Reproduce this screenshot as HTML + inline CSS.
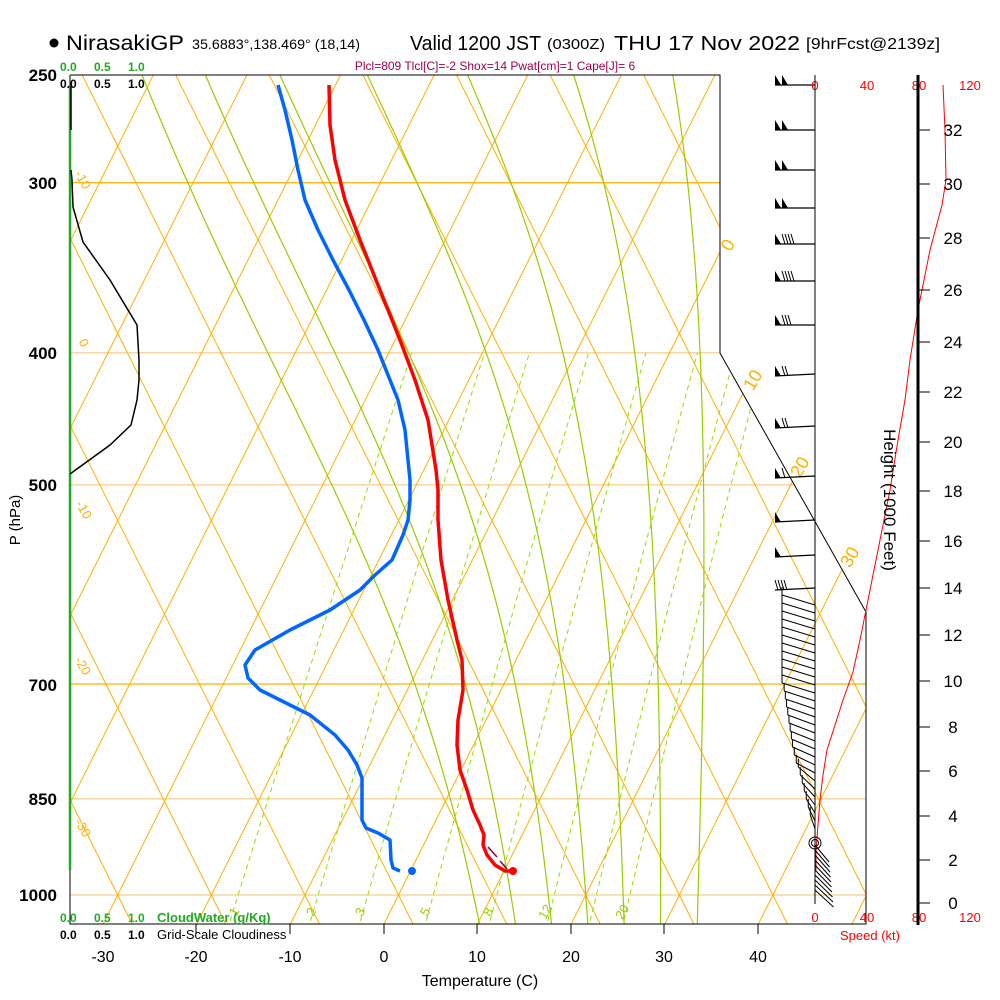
<!DOCTYPE html>
<html><head><meta charset="utf-8">
<style>
html,body{margin:0;padding:0;background:#fff;}
svg{display:block;font-family:"Liberation Sans",Arial,sans-serif;}
</style></head>
<body>
<svg id="s" width="1000" height="1000" viewBox="0 0 1000 1000" xmlns="http://www.w3.org/2000/svg">
<defs>
<clipPath id="pc"><polygon points="70,75 720,75 720,353 866,612 866,924 70,924"/></clipPath>
</defs>
<g id="grid" clip-path="url(#pc)"></g>
<polyline points="70,75 720,75 720,353 866,612 866,924 70,924 70,75" fill="none" stroke="#000" stroke-width="1"/>
<g id="dyn"></g>

<circle cx="54" cy="43" r="4.5" fill="#000"/>
<text x="66" y="50" font-size="21" textLength="118" lengthAdjust="spacingAndGlyphs">NirasakiGP</text>
<text x="192" y="49" font-size="14" textLength="168" lengthAdjust="spacingAndGlyphs">35.6883°,138.469° (18,14)</text>
<text x="410" y="50" font-size="20" textLength="131" lengthAdjust="spacingAndGlyphs">Valid 1200 JST</text>
<text x="547" y="49" font-size="15" textLength="58" lengthAdjust="spacingAndGlyphs">(0300Z)</text>
<text x="614" y="50" font-size="20" textLength="186" lengthAdjust="spacingAndGlyphs">THU 17 Nov 2022</text>
<text x="806" y="49" font-size="16" textLength="134" lengthAdjust="spacingAndGlyphs">[9hrFcst@2139z]</text>
<text x="495" y="70" font-size="12" fill="#a0004a" text-anchor="middle">Plcl=809 Tlcl[C]=-2 Shox=14 Pwat[cm]=1 Cape[J]= 6</text>

<g font-size="12" font-weight="bold" fill="#22aa22">
<text x="60" y="71">0.0</text><text x="94" y="71">0.5</text><text x="128" y="71">1.0</text>
</g>
<g font-size="12" font-weight="bold" fill="#000">
<text x="60" y="88">0.0</text><text x="94" y="88">0.5</text><text x="128" y="88">1.0</text>
</g>

<g font-size="17" font-weight="bold" text-anchor="end">
<text x="57" y="81">250</text><text x="57" y="189">300</text><text x="57" y="359">400</text>
<text x="57" y="491">500</text><text x="57" y="691">700</text><text x="57" y="805">850</text><text x="57" y="901">1000</text>
</g>
<text transform="translate(20,520) rotate(-90)" font-size="15" text-anchor="middle">P (hPa)</text>

<g font-size="12" font-weight="bold" fill="#22aa22">
<text x="60" y="922">0.0</text><text x="94" y="922">0.5</text><text x="128" y="922">1.0</text>
<text x="157" y="922" font-size="13">CloudWater (g/Kg)</text>
</g>
<g font-size="12" font-weight="bold" fill="#000">
<text x="60" y="939">0.0</text><text x="94" y="939">0.5</text><text x="128" y="939">1.0</text>
<text x="157" y="939" font-size="13" font-weight="normal">Grid-Scale Cloudiness</text>
</g>
<g stroke="#000" stroke-width="1">
<line x1="196" y1="924" x2="196" y2="934"/><line x1="290" y1="924" x2="290" y2="934"/><line x1="384" y1="924" x2="384" y2="934"/>
<line x1="477" y1="924" x2="477" y2="934"/><line x1="571" y1="924" x2="571" y2="934"/><line x1="664" y1="924" x2="664" y2="934"/><line x1="758" y1="924" x2="758" y2="934"/>
</g>
<g font-size="16" text-anchor="middle">
<text x="103" y="962">-30</text><text x="196" y="962">-20</text><text x="290" y="962">-10</text><text x="384" y="962">0</text>
<text x="477" y="962">10</text><text x="571" y="962">20</text><text x="664" y="962">30</text><text x="758" y="962">40</text>
</g>
<text x="480" y="986" font-size="16" text-anchor="middle">Temperature (C)</text>

<g font-size="13" fill="#ff0000" text-anchor="middle">
<text x="815" y="90">0</text><text x="867" y="90">40</text><text x="919" y="90">80</text><text x="970" y="90">120</text>
<text x="815" y="922">0</text><text x="867" y="922">40</text><text x="919" y="922">80</text><text x="970" y="922">120</text>
<text x="870" y="940">Speed (kt)</text>
</g>
<line x1="815" y1="75" x2="815" y2="904" stroke="#000" stroke-width="1"/>
<line x1="918" y1="75" x2="918" y2="925" stroke="#000" stroke-width="3"/>
<g id="hax" font-size="17" text-anchor="middle"></g>
<text transform="translate(884,500) rotate(90)" font-size="17" text-anchor="middle">Height (1000 Feet)</text>
</svg>
<script>
(function(){
var NS="http://www.w3.org/2000/svg";
function el(parent,tag,attrs,txt){var e=document.createElementNS(NS,tag);for(var k in attrs)e.setAttribute(k,attrs[k]);if(txt!==undefined)e.textContent=txt;parent.appendChild(e);return e;}
function Y(p){return 895-591.6*Math.log(1000/p);}
function X(T,p){return 384+9.36*T+0.5*(924-Y(p));}
var g=document.getElementById('grid');
[[300,'#ffb000',1.3],[400,'#f0c070',1],[500,'#f0c070',1],[700,'#ffb000',1.3],[850,'#f0c070',1],[1000,'#f0c070',1]].forEach(function(a){
 var y=Y(a[0]);el(g,'line',{x1:70,y1:y,x2:866,y2:y,stroke:a[1],'stroke-width':a[2]});});
// isotherms (up-right)
for(var T=-130;T<=60;T+=10){el(g,'line',{x1:X(T,1060),y1:Y(1060),x2:X(T,240),y2:Y(240),stroke:'#ffb000','stroke-width':1});}
// straight "dry adiabats" (up-left), crossing isotherms at 1000 hPa
for(var th=-60;th<=200;th+=10){var xc=X(th,1000);
 el(g,'line',{x1:xc+0.5*(940-895),y1:940,x2:xc-0.5*(895-60),y2:60,stroke:'#ffb000','stroke-width':1});}
// mixing ratio
[1,2,3,5,8,12,16,20].forEach(function(w){var pts=[];for(var p=1060;p>=400;p-=10){var e=w*p/(622+w);var l=Math.log(e/6.112);var td=243.5*l/(17.67-l);pts.push(X(td,p).toFixed(1)+','+Y(p).toFixed(1));}
 el(g,'polyline',{points:pts.join(' '),fill:'none',stroke:'#99dd00','stroke-width':1,'stroke-dasharray':'5,4'});});
// moist adiabats
function es(t){return 6.112*Math.exp(17.67*t/(t+243.5));}
function dTdp(t,p){var T=t+273.15;var e=es(t);var rs=0.622*e/(p-e);var Lv=2.5e6,Rd=287,cp=1005;
 return (1/p)*(Rd*T+Lv*rs)/(cp+Lv*Lv*rs*0.622/(Rd*T*T));}
for(var tw=8;tw<=32;tw+=4){var up=[],t=tw,p=1000;up.push([t,p]);
 while(p>240){var dp=-5;t+=dTdp(t,p)*dp;p+=dp;up.push([t,p]);}
 var dn=[];t=tw;p=1000;while(p<1060){var dp=5;t+=dTdp(t,p)*dp;p+=dp;dn.unshift([t,p]);}
 var all=dn.concat(up);el(g,'polyline',{points:all.map(function(a){return X(a[0],a[1]).toFixed(1)+','+Y(a[1]).toFixed(1);}).join(' '),fill:'none',stroke:'#99cc00','stroke-width':1.2});}
function otext(x,y,s,c,rot,fs){el(g,'text',{x:x,y:y,fill:c,'font-size':fs||14,'text-anchor':'middle',transform:'rotate('+rot+' '+x+' '+y+')'},s);}
otext(79,182,'-10','#ffb000',60,13);otext(80,345,'0','#ffb000',60,13);otext(80,512,'-10','#ffb000',60,13);
otext(79,668,'-20','#ffb000',60,13);otext(79,830,'-30','#ffb000',60,13);
var d=document.getElementById('dyn');
function dt(x,y,s,c,rot,fs){el(d,'text',{x:x,y:y,fill:c,'font-size':fs,'text-anchor':'middle',transform:'rotate('+rot+' '+x+' '+y+')'},s);}
dt(733,248,'0','#ffb000',-60,18);dt(758,383,'10','#ffb000',-60,18);dt(805,470,'20','#ffb000',-60,18);dt(855,560,'30','#ffb000',-60,18);
[[238,'1'],[315,'2'],[364,'3'],[429,'5'],[492,'8'],[549,'12'],[626,'20']].forEach(function(a){dt(a[0],914,a[1],'#99cc00',-60,13);});
el(d,'line',{x1:70,y1:85,x2:70,y2:870,stroke:'#22aa22','stroke-width':2.5});
el(d,'polyline',{points:'71,85 71,130',fill:'none',stroke:'#000','stroke-width':1.5});
el(d,'polyline',{points:'71,170 72,180 73,207 83,242 110,280 137,325 139,360 139,380 137,400 131,425 110,445 70,474',fill:'none',stroke:'#000','stroke-width':1.5});
el(d,'polyline',{points:'329,85 330,125 335,160 345,200 360,240 380,290 400,340 415,380 428,420 436,470 438,490 438,520 441,560 448,600 457,640 462,660 463,690 458,720 457,745 460,770 467,790 473,810 480,825 484,835 483,845 487,855 495,865 505,871 512,871',fill:'none',stroke:'#ff0000','stroke-width':3.5,'stroke-linejoin':'round'});
el(d,'circle',{cx:513,cy:871,r:4,fill:'#ff0000'});
el(d,'polyline',{points:'488,847 497,857',fill:'none',stroke:'#880044','stroke-width':1.5});
el(d,'polyline',{points:'500,861 507,869',fill:'none',stroke:'#880044','stroke-width':1.5});
el(d,'polyline',{points:'278,85 285,110 292,140 298,170 305,200 318,230 333,260 349,290 364,320 378,350 390,380 398,400 405,430 408,460 410,480 410,500 408,520 403,535 392,560 375,575 360,590 330,610 290,630 255,650 245,665 248,678 260,690 290,705 310,715 335,735 348,750 357,765 362,778 362,800 362,820 366,828 378,833 390,840 391,860 393,868 400,871',fill:'none',stroke:'#0066ff','stroke-width':3.5,'stroke-linejoin':'round'});
el(d,'circle',{cx:412,cy:871,r:4,fill:'#0066ff'});
var hy={0:903,2:860,4:816,6:771,8:727,10:681,12:635,14:588,16:541,18:491,20:442,22:392,24:342,26:290,28:238,30:184,32:130};
var ha=document.getElementById('hax');
for(var k in hy){var y=hy[k];el(ha,'line',{x1:918,y1:y,x2:930,y2:y,stroke:'#000','stroke-width':1});
 el(ha,'text',{x:953,y:y+6},k);}
el(d,'polyline',{points:'943,85 945,130 946,180 942,205 930,250 918,310 910,360 905,400 898,440 890,490 880,540 870,590 860,640 853,672 843,700 835,725 827,750 823,775 820,800 818,825 816,850 816,870',fill:'none',stroke:'#ff0000','stroke-width':1});
el(d,'circle',{cx:815,cy:843,r:6,fill:'none',stroke:'#000','stroke-width':1});
el(d,'circle',{cx:815,cy:843,r:3.5,fill:'none',stroke:'#000','stroke-width':1});
function pen(x,y){el(d,'polygon',{points:x+','+y+' '+(x+6)+','+y+' '+x+','+(y-10),fill:'#000'});}
function barb(x,y){el(d,'line',{x1:x,y1:y,x2:x-3,y2:y-10,stroke:'#000','stroke-width':1});}
var lv=[[85,2,0],[130,2,0],[170,2,0],[208,2,0],[244,1,4],[281,1,4],[325,1,3],[376,1,2],[428,1,2],[478,1,1],[522,1,0],[557,1,0],[590,0,4]];
lv.forEach(function(a){var y=a[0];var x0=775;
 el(d,'line',{x1:x0,y1:y,x2:815,y2:y-(y>350&&y<600?2:0),stroke:'#000','stroke-width':1.3});
 var x=x0;for(var i=0;i<a[1];i++){pen(x,y);x+=7;}
 for(var j=0;j<a[2];j++){barb(x+3,y);x+=3;}});
for(var y=605;y<=835;y+=8){var xe;if(y<700)xe=782;else if(y<760)xe=784+(y-700)*0.15;else xe=793+(y-760)*0.25;
 var dy=(y<780)?-10:-14;
 el(d,'line',{x1:815,y1:y,x2:xe,y2:y+dy,stroke:'#000','stroke-width':1});
 el(d,'line',{x1:xe,y1:y+dy,x2:xe,y2:y+dy-8,stroke:'#000','stroke-width':1});}
for(var y=850;y<=895;y+=5){el(d,'line',{x1:815,y1:y-5,x2:829+(y-850)*0.1,y2:y+12,stroke:'#000','stroke-width':1});}
})();
</script>
</body></html>
